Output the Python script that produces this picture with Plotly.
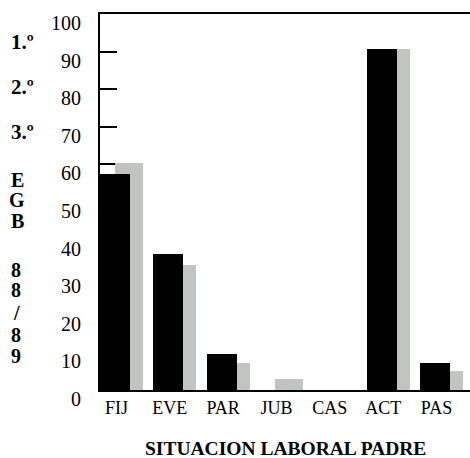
import plotly.graph_objects as go

categories = ["FIJ", "EVE", "PAR", "JUB", "CAS", "ACT", "PAS"]
serie_negra = [57.5, 36.3, 9.6, 0, 0, 90.6, 7.2]
serie_gris = [60.5, 33.2, 7.2, 2.9, 0, 90.6, 5.1]
y_ticks = [0, 10, 20, 30, 40, 50, 60, 70, 80, 90, 100]
x_title = "SITUACION LABORAL PADRE"
curso_labels = ["1.º", "2.º", "3.º"]
egb_labels = ["E", "G", "B"]
year_labels = ["8", "8", "/", "8", "9"]

W, H = 470, 458
L, R, T, B = 100, 0, 14, 68
PW, PH = W - L - R, H - T - B

def px(x):
    return (x - L) / PW

def py(y):
    return (H - B - y) / PH

SERIF = "Liberation Serif, Times New Roman, serif"

fig = go.Figure()
fig.add_trace(go.Bar(
    x=categories, y=serie_gris, offset=-0.028, width=0.525,
    marker=dict(color="#c4c8c4", line=dict(width=0),
                pattern=dict(shape=".", fgcolor="#9aa09a", bgcolor="#e0e3e0",
                             size=2, solidity=0.5, fillmode="replace")),
    showlegend=False,
))
fig.add_trace(go.Bar(
    x=categories, y=serie_negra, offset=-0.309, width=0.5625,
    marker=dict(color="#000000", line=dict(width=0)),
    showlegend=False,
))

def lab(t, x, y, size=20):
    return dict(text="<b>" + t + "</b>", x=px(x), y=py(y), xref="paper", yref="paper",
                showarrow=False, xanchor="center", yanchor="middle",
                font=dict(family=SERIF, size=size, color="#000"))

annotations = []
for t, yy in zip(curso_labels, [42, 87, 132]):
    annotations.append(lab(t, 22, yy, 21))
for t, yy in zip(egb_labels, [180, 200, 221]):
    annotations.append(lab(t, 17, yy, 20))
for t, yy in zip(year_labels, [270, 290, 313, 335, 356]):
    annotations.append(lab(t, 16, yy, 20))
annotations.append(lab(x_title, 285, 448, 19.5))

fig.update_layout(
    width=W, height=H,
    margin=dict(l=L, r=R, t=T, b=B, pad=0, autoexpand=False),
    paper_bgcolor="white", plot_bgcolor="white",
    barmode="overlay", bargap=0,
    annotations=annotations,
    xaxis=dict(range=[-0.309, 6.629], showgrid=False, zeroline=False,
               showline=True, linecolor="#000", linewidth=2, mirror=True,
               ticks="", tickfont=dict(family=SERIF, size=18, color="#000"),
               ticklabelstandoff=0, automargin=False),
    yaxis=dict(range=[0, 100], tickvals=y_ticks, showgrid=False, zeroline=False,
               showline=True, linecolor="#000", linewidth=2,
               ticks="inside", ticklen=17, tickwidth=2, tickcolor="#000",
               layer="below traces", automargin=False,
               tickfont=dict(family=SERIF, size=20, color="#000"),
               ticklabelshift=9, ticklabelstandoff=13),
)

fig.write_html("out.html", config={"displayModeBar": False},
               post_script="document.body.style.margin='0';document.body.style.overflow='hidden';")
